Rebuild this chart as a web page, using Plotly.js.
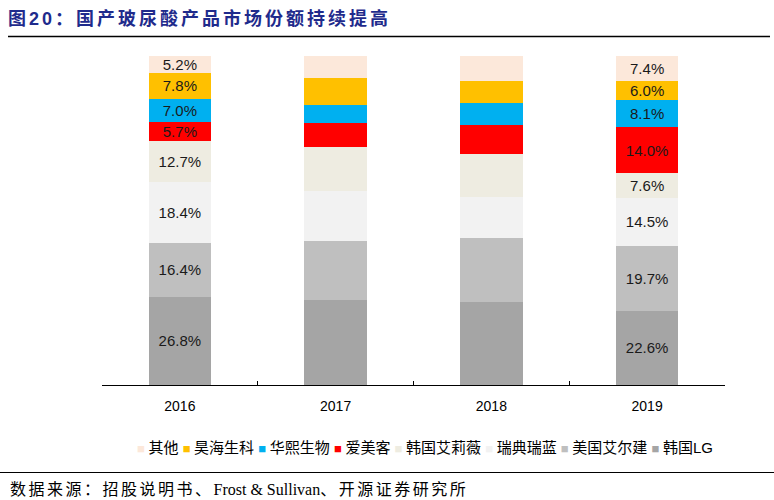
<!DOCTYPE html>
<html>
<head>
<meta charset="utf-8">
<script src="https://cdn.plot.ly/plotly-3.0.1.min.js"></script>
<style>html,body{margin:0;padding:0;background:#fff;}#chart{width:774px;height:500px;}</style>
</head>
<body>
<div id="chart"></div>
<script>
// ---- data ----
const years = ['2016', '2017', '2018', '2019'];
const labelYears = ['2016', '2019'];
const seriesNames = ['其他', '昊海生科', '华熙生物', '爱美客', '韩国艾莉薇', '瑞典瑞蓝', '美国艾尔建', '韩国LG'];
const seriesColors = ['#FCE8DA', '#FFC000', '#00B0F0', '#FF0000', '#EEECE1', '#F2F2F2', '#BFBFBF', '#A5A5A5'];
const other     = [5.2, 6.6, 7.5, 7.4];
const haohai    = [7.8, 8.3, 6.9, 6.0];
const huaxi     = [7.0, 5.6, 6.6, 8.1];
const aimeike   = [5.7, 7.1, 8.7, 14.0];
const neuramis  = [12.7, 13.4, 13.1, 7.6];
const restylane = [18.4, 15.1, 12.4, 14.5];
const allergan  = [16.4, 18.0, 19.7, 19.7];
const lg        = [26.8, 25.9, 25.1, 22.6];
const seriesValues = [other, haohai, huaxi, aimeike, neuramis, restylane, allergan, lg];

// ---- layout geometry helpers ----
const W = 774, H = 500;
const M = {l: 102, r: 49, t: 56, b: 115};
const pw = W - M.l - M.r, ph = H - M.t - M.b;
const px2x = p => (p - M.l) / pw;
const px2y = p => (H - M.b - p) / ph;

const latin = 'Liberation Sans, Arial, sans-serif';
const cjk = 'Liberation Sans, Noto Sans CJK SC, sans-serif';
const sp = (t, s) => '<span style="letter-spacing:' + s + 'px">' + t + '</span>';

// stack bottom-first
const traces = [];
for (let i = seriesNames.length - 1; i >= 0; i--) {
  const vals = seriesValues[i];
  traces.push({
    type: 'bar',
    name: seriesNames[i],
    x: years,
    y: vals,
    marker: {color: seriesColors[i], line: {width: 0}},
    text: vals.map((v, k) => labelYears.includes(years[k]) ? v.toFixed(1) + '%' : ''),
    textposition: 'inside',
    insidetextanchor: 'middle',
    textangle: 0,
    constraintext: 'none',
    textfont: {family: latin, size: 15, color: '#1a1a1a'},
    hoverinfo: 'skip',
    showlegend: false
  });
}

// legend as text line built from series names and colours
const legendText = seriesNames.map((n, i) =>
  '<span style="color:' + seriesColors[i] + ';font-size:13px">■ </span>' + n
).join(' ');

const layout = {
  width: W, height: H,
  margin: M,
  paper_bgcolor: '#fff', plot_bgcolor: '#fff',
  barmode: 'stack',
  bargap: 0.6,
  showlegend: false,
  title: {
    text: '<b>' + sp('图20：国产玻尿酸产品市场份额持续提高', 3) + '</b>',
    xref: 'container', yref: 'container',
    x: 8 / W, xanchor: 'left',
    y: 1 - 19 / H, yanchor: 'middle',
    font: {family: 'Liberation Sans, Noto Sans CJK SC, sans-serif', size: 18, color: '#1F2B8C'}
  },
  xaxis: {
    type: 'category',
    showline: true, linecolor: '#000', linewidth: 1,
    ticks: 'inside', ticklen: 4, tickcolor: '#000', tickwidth: 1,
    tickson: 'boundaries',
    ticklabelstandoff: 8,
    tickfont: {family: latin, size: 14, color: '#000'},
    showgrid: false, zeroline: false, fixedrange: true
  },
  yaxis: {
    range: [0, 100], visible: false, showgrid: false, zeroline: false, fixedrange: true
  },
  shapes: [
    {type: 'line', xref: 'paper', yref: 'paper', x0: px2x(8), x1: px2x(770), y0: px2y(36.5), y1: px2y(36.5), line: {color: '#000', width: 1.5}},
    {type: 'line', xref: 'paper', yref: 'paper', x0: px2x(0), x1: px2x(774), y0: px2y(472.5), y1: px2y(472.5), line: {color: '#000', width: 1.2}}
  ],
  annotations: [
    {
      xref: 'paper', yref: 'paper', x: px2x(425), y: px2y(447), xanchor: 'center', yanchor: 'middle',
      text: legendText, showarrow: false,
      font: {family: cjk, size: 15, color: '#000'}
    },
    {
      xref: 'paper', yref: 'paper', x: px2x(8), y: px2y(490), xanchor: 'left', yanchor: 'middle',
      text: sp('数据来源：招股说明书、', 2.5) + 'Frost &amp; Sullivan' + sp('、开源证券研究所', 2.5), showarrow: false,
      font: {family: 'Liberation Serif, Noto Sans CJK SC, serif', size: 16, color: '#000'}
    }
  ]
};

Plotly.newPlot('chart', traces, layout, {displayModeBar: false, staticPlot: true});
</script>
</body>
</html>
